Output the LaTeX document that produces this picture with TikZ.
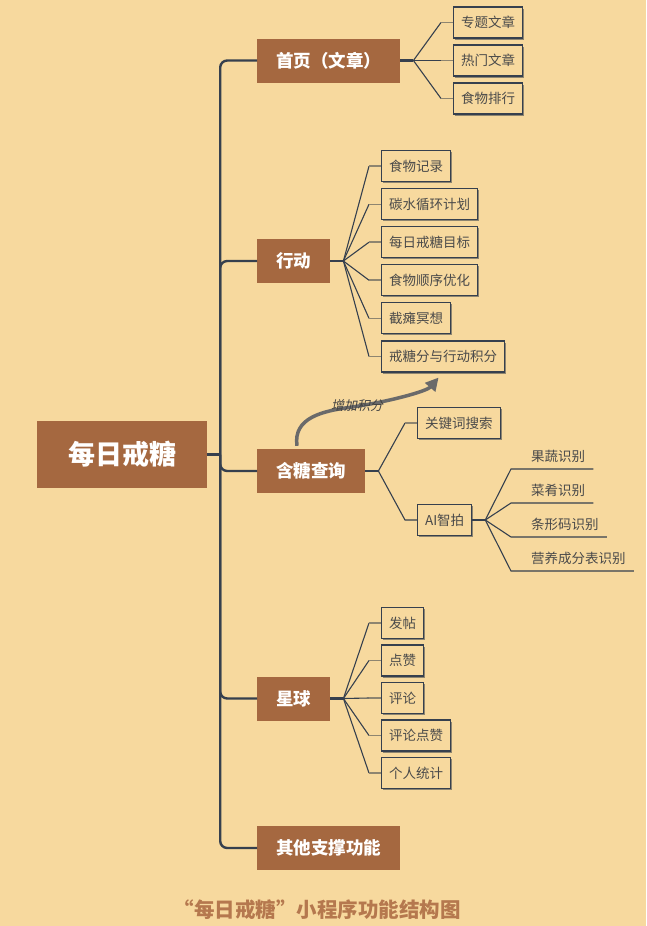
\documentclass[tikz,border=0pt]{standalone}
\usepackage{fontspec}
\setmainfont{Noto Sans CJK SC}
\newfontfamily\slantcjk{Noto Sans CJK SC}[FakeSlant=0.2]
\usepackage{xcolor}
\usetikzlibrary{arrows.meta, calc, shadows}
\definecolor{paper}{HTML}{F7D99E}
\definecolor{bark}{HTML}{A56840}
\definecolor{ink}{HTML}{36404E}
\definecolor{shade}{HTML}{8E8570}
\definecolor{txt}{HTML}{4A4A4A}
\definecolor{boostc}{HTML}{6A6A6A}
\definecolor{titlec}{HTML}{B5784E}

\begin{document}
\begin{tikzpicture}[x=1pt, y=-1pt,
  root/.style={fill=bark, text=white, font=\fontsize{27}{30}\selectfont\bfseries, minimum width=170pt, minimum height=67pt},
  topic/.style={fill=bark, text=white, font=\fontsize{17.5}{20}\selectfont\bfseries, inner xsep=19pt, minimum height=44pt, anchor=west},
  item/.style={draw=ink, line width=1.1pt, fill=paper, text=txt, font=\fontsize{13.5}{16}\selectfont, inner xsep=7.5pt, minimum height=31pt, anchor=west,
    drop shadow={shadow xshift=1.6pt, shadow yshift=-1.6pt, fill=shade, opacity=1}},
  leaf/.style={text=txt, font=\fontsize{13.5}{16}\selectfont, inner sep=0pt, anchor=west},
  trunk/.style={draw=ink, line width=2.4pt, rounded corners=7pt},
  link/.style={draw=ink, line width=1.1pt},
  stub/.style={draw=shade, line width=1.6pt},
  boost/.style={draw=boostc, line width=3.5pt, -{Triangle[length=13pt,width=13pt]}},
  tag/.style={text=txt!90!black, font=\slantcjk\fontsize{13}{15}\selectfont},
]
\fill[paper] (0,0) rectangle (646,926);
\useasboundingbox (0,0) rectangle (646,926);

\node[root] (root) at (122,454.5) {每日戒糖};

\node[topic] (home) at (257,60.5) {首页（文章）};
\node[topic] (act) at (257,261) {行动};
\node[topic] (query) at (257,471) {含糖查询};
\node[topic] (planet) at (257,698.5) {星球};
\node[topic] (other) at (257,848) {其他支撑功能};

% main trunk
\coordinate (spine) at ($(root.east)+(13,0)$);
\draw[trunk] (home.west) -| (spine) |- (other.west);
\draw[trunk, rounded corners=0pt] (root.east) -- (spine);
\foreach \t in {act,query,planet}
  \draw[trunk] (spine) |- (\t.west);

% 首页
\node[item] (h1) at (453,22.5) {专题文章};
\node[item] (h2) at (453,60.5) {热门文章};
\node[item] (h3) at (453,98.5) {食物排行};
\coordinate (fhome) at ($(home.east)+(13,0)$);
\draw[trunk, rounded corners=0pt] (home.east) -- (fhome);
\foreach \c in {h1,h2,h3} {
  \draw[link] (fhome) -- ($(\c.west)+(-12,0)$);
  \draw[stub] ($(\c.west)+(-12,0)$) -- (\c.west);
}

% 行动
\node[item] (a1) at (381,166.2) {食物记录};
\node[item] (a2) at (381,204.3) {碳水循环计划};
\node[item] (a3) at (381,242.2) {每日戒糖目标};
\node[item] (a4) at (381,280.2) {食物顺序优化};
\node[item] (a5) at (381,318.3) {截瘫冥想};
\node[item] (score) at (381,356.5) {戒糖分与行动积分};
\coordinate (fact) at ($(act.east)+(13,0)$);
\draw[trunk, rounded corners=0pt] (act.east) -- (fact);
\foreach \c in {a1,a2,a3,a4,a5,score} {
  \draw[link] (fact) -- ($(\c.west)+(-12,0)$);
  \draw[stub] ($(\c.west)+(-12,0)$) -- (\c.west);
}

% 含糖查询
\node[item] (kw) at (417,423) {关键词搜索};
\node[item] (ai) at (417,520) {AI智拍};
\coordinate (fquery) at ($(query.east)+(13,0)$);
\draw[trunk, rounded corners=0pt] (query.east) -- (fquery);
\draw[link] (fquery) -- ($(kw.west)+(-12,0)$);
\draw[stub] ($(kw.west)+(-12,0)$) -- (kw.west);
\draw[link] (fquery) -- ($(ai.west)+(-12,0)$) -- (ai.west);

\coordinate (fai) at ($(ai.east)+(13,0)$);
\draw[link] (ai.east) -- (fai);
\foreach \n/\y/\t in {g1/469/果蔬识别, g2/503/菜肴识别, g3/537/条形码识别, g4/571/营养成分表识别} {
  \node[leaf] (\n) at (531,\y-12.5) {\t};
  \coordinate (u\n) at (511,\y);
  \draw[link] (fai) -- (u\n) -- ($(u\n -| \n.east)+(8,0)$);
}

% 增加积分
\coordinate (bend) at (352,407);
\coordinate (gain) at ($(score.south)+(-4.5,5)$);
\draw[boost] ($(query.north west)+(40,-3)$) .. controls +(-4,-28) and +(-30,4) .. (bend)
  .. controls +(35,-5) and +(-12,14) .. (gain);
\node[tag] (gainlbl) at (357,406) {增加积分};

% 星球
\node[item] (p1) at (381,623) {发帖};
\node[item] (p2) at (381,660.5) {点赞};
\node[item] (p3) at (381,698) {评论};
\node[item] (p4) at (381,735.5) {评论点赞};
\node[item] (p5) at (381,773) {个人统计};
\coordinate (fplanet) at ($(planet.east)+(13,0)$);
\draw[trunk, rounded corners=0pt] (planet.east) -- (fplanet);
\foreach \c in {p1,p2,p3,p4,p5} {
  \draw[link] (fplanet) -- ($(\c.west)+(-12,0)$);
  \draw[stub] ($(\c.west)+(-12,0)$) -- (\c.west);
}

\node[font=\fontsize{20.5}{24}\selectfont\bfseries, text=titlec] (title) at (317,910) {“每日戒糖”小程序功能结构图};
\end{tikzpicture}
\end{document}
